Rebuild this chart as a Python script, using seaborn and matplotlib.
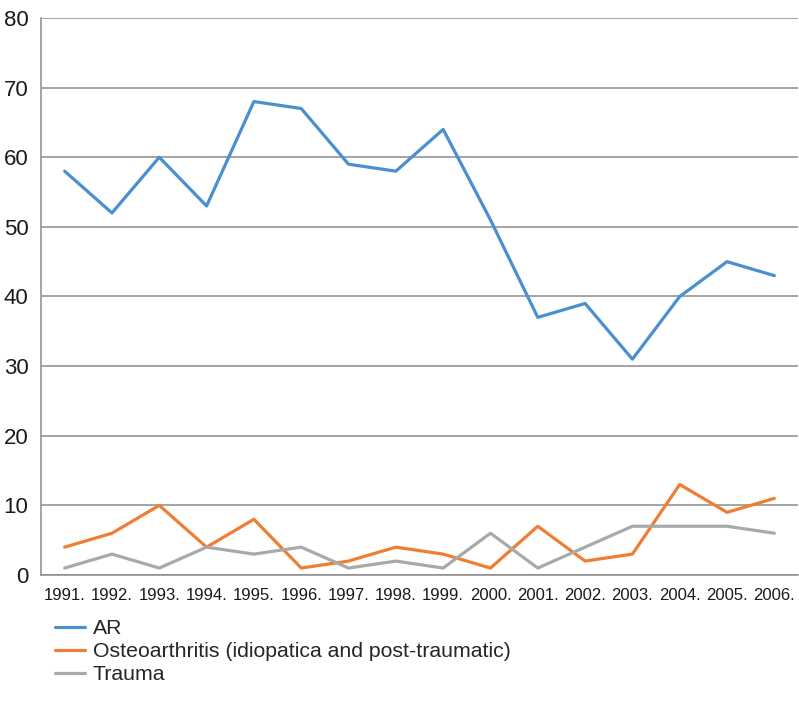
import numpy as np
import pandas as pd
import matplotlib
matplotlib.use("Agg")
import matplotlib.pyplot as plt
import seaborn as sns

years = ["1991.", "1992.", "1993.", "1994.", "1995.", "1996.", "1997.", "1998.",
         "1999.", "2000.", "2001.", "2002.", "2003.", "2004.", "2005.", "2006."]
ar = [58, 52, 60, 53, 68, 67, 59, 58, 64, 51, 37, 39, 31, 40, 45, 43]
osteo = [4, 6, 10, 4, 8, 1, 2, 4, 3, 1, 7, 2, 3, 13, 9, 11]
trauma = [1, 3, 1, 4, 3, 4, 1, 2, 1, 6, 1, 4, 7, 7, 7, 6]

series_names = ["AR", "Osteoarthritis (idiopatica and post-traumatic)", "Trauma"]
series_colors = ["#4a8fcf", "#ef7d32", "#a9a9a9"]

df = pd.DataFrame({
    "idx": list(range(len(years))) * 3,
    "value": ar + osteo + trauma,
    "series": [series_names[0]] * len(years) + [series_names[1]] * len(years) + [series_names[2]] * len(years),
})

sns.set_style("white")
plt.rcParams["font.family"] = ["Liberation Sans", "DejaVu Sans"]

fig = plt.figure(figsize=(7.99, 7.12), dpi=100)
ax = fig.add_axes([41 / 799, 1 - 575 / 712, 757 / 799, (575 - 18) / 712])

sns.lineplot(data=df, x="idx", y="value", hue="series", palette=series_colors,
             hue_order=series_names, linewidth=2.3, ax=ax, legend=False)

ax.set_xlim(-0.5, len(years) - 0.5)
ax.set_ylim(0, 80)
ax.set_yticks(np.arange(0, 81, 10))
ax.yaxis.grid(True, color="#8c8c8c", linewidth=1.1)
ax.set_axisbelow(True)
ax.set_xlabel("")
ax.set_ylabel("")

# category labels centred, tick marks between categories
ax.set_xticks(range(len(years)))
ax.set_xticklabels(years, fontsize=12, color="#1a1a1a")
ax.tick_params(axis="x", which="major", length=0, pad=9)
ax.set_xticks(np.arange(-0.5, len(years), 1), minor=True)
ax.tick_params(axis="x", which="minor", length=6, width=1.1, color="#8c8c8c", direction="out")
ax.tick_params(axis="y", length=6, width=1.1, color="#8c8c8c", direction="out",
               labelsize=16, labelcolor="#1a1a1a", pad=3)

for side in ["top", "right"]:
    ax.spines[side].set_visible(False)
for side in ["left", "bottom"]:
    ax.spines[side].set_color("#8c8c8c")
    ax.spines[side].set_linewidth(1.1)

handles = [plt.Line2D([0], [0], color=c, linewidth=2.3) for c in series_colors]
fig.legend(handles, series_names, loc="upper left", bbox_to_anchor=(55 / 799, 1 - 619 / 712),
           frameon=False, fontsize=15.3, handlelength=1.4, handletextpad=0.38,
           labelspacing=0.2, borderaxespad=0, borderpad=0)

fig.savefig("out.png", dpi=100)
